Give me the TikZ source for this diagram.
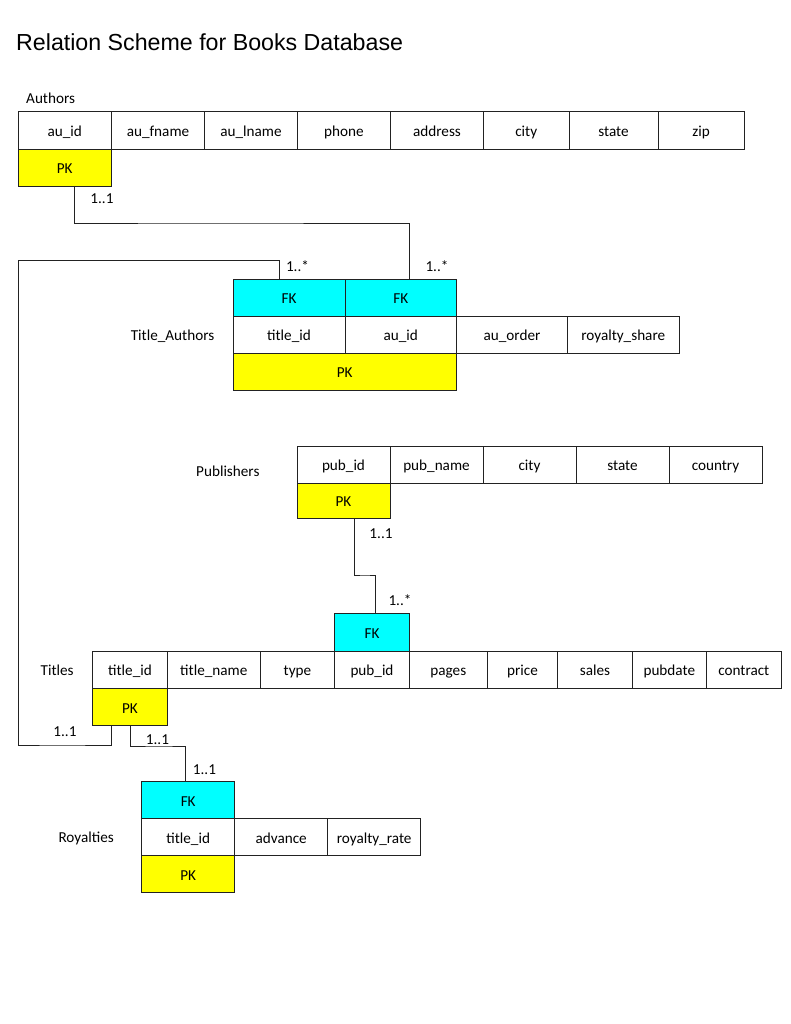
\documentclass[tikz,border=0pt]{standalone}
\usepackage{fontspec}
\setmainfont{Carlito}
\newfontfamily\titlefont{Liberation Sans}
\definecolor{pkyellow}{HTML}{FFFF00}
\definecolor{fkcyan}{HTML}{00FFFF}
\definecolor{linegray}{HTML}{222222}
\newcommand\dbcell[7]{%
  \pgfmathsetmacro\dbcx{(#2+#4)/2}%
  \pgfmathsetmacro\dbcy{(#3+#5)/2}%
  \pgfmathsetmacro\dbcw{#4-#2}%
  \pgfmathsetmacro\dbch{#5-#3}%
  \node[cell,fill=#6,minimum width=\dbcw pt,minimum height=\dbch pt] (#1) at (\dbcx,\dbcy) {#7};}
\begin{document}
\begin{tikzpicture}[x=1pt,y=-1pt,
  cell/.style={draw=linegray,line width=0.9pt,inner sep=0pt,outer sep=0pt,
    font=\fontsize{15.2}{18}\selectfont,text height=12.5pt,text depth=0pt},
  tname/.style={inner sep=0pt,font=\fontsize{15.2}{18}\selectfont},
  mult/.style={inner sep=0pt,anchor=base,font=\fontsize{15.2}{18}\selectfont},
  conn/.style={draw=linegray,line width=0.9pt}]
\useasboundingbox (0,0) rectangle (791,1024);
\fill[white] (0,0) rectangle (791,1024);
\node[anchor=base west,inner sep=0pt,font=\titlefont\fontsize{23.2}{28}\selectfont] (title) at (16,51) {Relation Scheme for Books Database};

% Authors
\node[tname,anchor=base west] (authorsL) at (26,104) {Authors};
\dbcell{a1}{18}{111}{111.5}{149}{white}{au\_id}
\dbcell{a2}{111.5}{111}{204.5}{149}{white}{au\_fname}
\dbcell{a3}{204.5}{111}{297.5}{149}{white}{au\_lname}
\dbcell{a4}{297.5}{111}{390.5}{149}{white}{phone}
\dbcell{a5}{390.5}{111}{483.5}{149}{white}{address}
\dbcell{a6}{483.5}{111}{569}{149}{white}{city}
\dbcell{a7}{569}{111}{658}{149}{white}{state}
\dbcell{a8}{658}{111}{744}{149}{white}{zip}
\dbcell{apk}{18}{149}{111.5}{186}{pkyellow}{PK}

% Title_Authors
\node[tname,anchor=base east] (taL) at (214.5,340) {Title\_Authors};
\dbcell{tafk1}{233}{279}{345}{316}{fkcyan}{FK}
\dbcell{tafk2}{345}{279}{456.5}{316}{fkcyan}{FK}
\dbcell{ta1}{233}{316}{345}{353}{white}{title\_id}
\dbcell{ta2}{345}{316}{456.5}{353}{white}{au\_id}
\dbcell{ta3}{456.5}{316}{567.5}{353}{white}{au\_order}
\dbcell{ta4}{567.5}{316}{679}{353}{white}{royalty\_share}
\dbcell{tapk}{233}{353}{456.5}{390}{pkyellow}{PK}

% Publishers
\node[tname,anchor=base west] (pubL) at (196,476) {Publishers};
\dbcell{p1}{297}{446}{390}{483}{white}{pub\_id}
\dbcell{p2}{390}{446}{483}{483}{white}{pub\_name}
\dbcell{p3}{483}{446}{576}{483}{white}{city}
\dbcell{p4}{576}{446}{669}{483}{white}{state}
\dbcell{p5}{669}{446}{762}{483}{white}{country}
\dbcell{ppk}{297}{483}{390}{518}{pkyellow}{PK}

% Titles
\node[tname,anchor=base west] (tiL) at (40.5,675) {Titles};
\dbcell{tifk}{334.7}{613.7}{409.3}{651}{fkcyan}{FK}
\dbcell{t1}{92.7}{651}{167.3}{688.3}{white}{title\_id}
\dbcell{t2}{167.3}{651}{260.3}{688.3}{white}{title\_name}
\dbcell{t3}{260.3}{651}{334.7}{688.3}{white}{type}
\dbcell{t4}{334.7}{651}{409.3}{688.3}{white}{pub\_id}
\dbcell{t5}{409.3}{651}{487.3}{688.3}{white}{pages}
\dbcell{t6}{487.3}{651}{557.7}{688.3}{white}{price}
\dbcell{t7}{557.7}{651}{632.3}{688.3}{white}{sales}
\dbcell{t8}{632.3}{651}{706.3}{688.3}{white}{pubdate}
\dbcell{t9}{706.3}{651}{781.3}{688.3}{white}{contract}
\dbcell{tipk}{92.7}{688.3}{167.3}{725.3}{pkyellow}{PK}

% Royalties
\node[tname,anchor=base west] (roL) at (58.3,842) {Royalties};
\dbcell{rofk}{141.7}{781.7}{234.7}{818.7}{fkcyan}{FK}
\dbcell{r1}{141.7}{818.7}{234.7}{855.7}{white}{title\_id}
\dbcell{r2}{234.7}{818.7}{327.7}{855.7}{white}{advance}
\dbcell{r3}{327.7}{818.7}{420.7}{855.7}{white}{royalty\_rate}
\dbcell{ropk}{141.7}{855.7}{234.7}{892.7}{pkyellow}{PK}

% connector coordinates
\coordinate (c1) at (200,223);
\coordinate (c2a) at (18.3,260);
\coordinate (c2b) at (60,745);
\coordinate (c3) at (365,575);
\coordinate (c4) at (160,746);

% connectors
\draw[conn] ([xshift=9.3pt]apk.south) |- (c1) -| ([xshift=8.3pt]tafk2.north);
\draw[conn] ([xshift=-10pt]tafk1.north) |- (c2a) |- (c2b) -| ([xshift=-19pt]tipk.south);
\draw[conn] ([xshift=10.5pt]ppk.south) |- (c3) -| ([xshift=3.7pt]tifk.north);
\draw[conn] (tipk.south) |- (c4) -| ([xshift=-2.5pt]rofk.north);

% multiplicities
\node[mult] (m1) at (102,204) {1..1};
\node[mult] (m2) at (297.5,271) {1..*};
\node[mult] (m3) at (437,271) {1..*};
\node[mult] (m4) at (381,538) {1..1};
\node[mult] (m5) at (400,605) {1..*};
\node[mult] (m6) at (65,736) {1..1};
\node[mult] (m7) at (157.5,744) {1..1};
\node[mult] (m8) at (204.5,774) {1..1};
\end{tikzpicture}
\end{document}
